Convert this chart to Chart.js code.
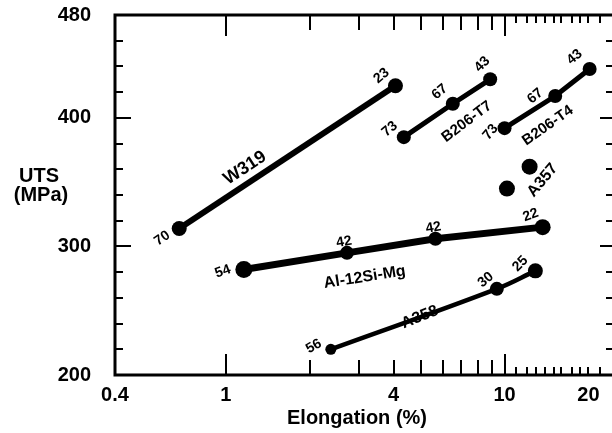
<!DOCTYPE html>
<html>
<head>
<meta charset="utf-8">
<script src="https://cdn.jsdelivr.net/npm/chart.js@4.4.0/dist/chart.umd.min.js"></script>
<style>
  html, body { margin: 0; padding: 0; background: #fff; }
  #chart { display: block; }
</style>
</head>
<body>
<canvas id="chart" width="612" height="433"></canvas>
<script>
// elongation (%) / UTS (MPa) per alloy, with the number printed next to each point
const w319Elong = [0.68, 4.06];
const w319Uts = [314, 425];
const w319Q = ["70", "23"];

const t7Elong = [4.35, 6.52, 8.88];
const t7Uts = [385, 411, 430];
const t7Q = ["73", "67", "43"];

const t4Elong = [10.0, 15.2, 20.2];
const t4Uts = [392, 417, 438];
const t4Q = ["73", "67", "43"];

const a357Elong = [10.2, 12.3];
const a357Uts = [345, 362];

const alSiElong = [1.16, 2.72, 5.65, 13.7];
const alSiUts = [282, 295, 306, 315];
const alSiQ = ["54", "42", "42", "22"];

const a358Elong = [2.38, 9.38, 12.9];
const a358Uts = [220, 267, 281];
const a358Q = ["56", "30", "25"];

const xTickLabels = [0.4, 1, 4, 10, 20];
const yTickLabels = [200, 300, 400, 480];

// tick marks drawn inside the frame
const xMajorTicks = [1, 10];
const xMinorTicks = [2, 3, 4, 5, 6, 7, 8, 9];
const xSmallTicks = [11, 12, 13, 14, 15, 16, 17.5, 18.7, 20, 22];
const yMajorTicks = [300, 400];
const yMinorTicks = [220, 240, 260, 280, 320, 340, 360, 380, 420, 440, 460];

const FONT = '"Liberation Sans", Arial, Helvetica, sans-serif';

const toPoints = (xs, ys) => xs.map((v, i) => ({ x: v, y: ys[i] }));

function series(xs, ys, opts) {
  return Object.assign({
    data: toPoints(xs, ys),
    showLine: true,
    borderColor: "#000",
    backgroundColor: "#000",
    pointBorderWidth: 0,
    pointRadius: 7,
    borderWidth: 5
  }, opts);
}

const datasets = [
  series(w319Elong, w319Uts, { borderWidth: 6, pointRadius: 7.5 }),
  series(t7Elong, t7Uts, { borderWidth: 5 }),
  series(t4Elong, t4Uts, { borderWidth: 5 }),
  series(a357Elong, a357Uts, { showLine: false, pointRadius: 8 }),
  series(alSiElong, alSiUts, { borderWidth: 7, pointRadius: [8.5, 7, 7, 8] }),
  series(a358Elong, a358Uts, { borderWidth: 4.5, pointRadius: [5.5, 7, 7.5], tension: 0.4 })
];

// number labels next to points: dataset index, texts, offsets and rotation
const pointNotes = [
  { ds: 0, texts: w319Q, pos: [[-17, 10, -35], [-14, -10, -40]] },
  { ds: 1, texts: t7Q, pos: [[-14, -8, -40], [-13, -12, -40], [-8, -15, -45]] },
  { ds: 2, texts: t4Q, pos: [[-14, 4, -50], [-20, 0, -40], [-15, -12, -40]] },
  { ds: 4, texts: alSiQ, pos: [[-21, 2, -20], [-3, -11, -10], [-2, -11, -10], [-12, -12, -20]] },
  { ds: 5, texts: a358Q, pos: [[-17, -3, -30], [-11, -9, -40], [-15, -7, -45]] }
];

// alloy names, placed in data coordinates
const seriesNames = [
  { text: "W319", x: 1.17, y: 361, rot: -33, size: 18 },
  { text: "B206-T7", x: 7.32, y: 397, rot: -37, size: 15 },
  { text: "B206-T4", x: 14.3, y: 394, rot: -35, size: 15 },
  { text: "A357", x: 13.7, y: 351.5, rot: -50, size: 16 },
  { text: "Al-12Si-Mg", x: 3.15, y: 276, rot: -9, size: 16 },
  { text: "A358", x: 4.97, y: 245, rot: -22, size: 16 }
];

function rotText(ctx, text, px, py, rot, size) {
  ctx.save();
  ctx.translate(px, py);
  ctx.rotate(rot * Math.PI / 180);
  ctx.font = `bold ${size}px ${FONT}`;
  ctx.textAlign = "center";
  ctx.textBaseline = "middle";
  ctx.fillText(text, 0, 0);
  ctx.restore();
}

const framePlugin = {
  id: "frame",
  afterDatasetsDraw(chart) {
    const { ctx, chartArea: a, scales: { x, y } } = chart;
    ctx.save();
    ctx.strokeStyle = "#000";
    ctx.fillStyle = "#000";

    // frame: top, left, bottom (right edge falls off the picture)
    ctx.lineWidth = 3;
    ctx.beginPath();
    ctx.moveTo(a.right, a.top);
    ctx.lineTo(a.left, a.top);
    ctx.lineTo(a.left, a.bottom);
    ctx.lineTo(a.right, a.bottom);
    ctx.stroke();

    ctx.lineWidth = 2;
    ctx.beginPath();
    const xt = (vals, len) => vals.forEach(v => {
      const px = Math.round(x.getPixelForValue(v));
      ctx.moveTo(px, a.bottom); ctx.lineTo(px, a.bottom - len);
      ctx.moveTo(px, a.top); ctx.lineTo(px, a.top + len);
    });
    xt(xMajorTicks, 21);
    xt(xMinorTicks, 15);
    xt(xSmallTicks, 8);
    const yt = (vals, lenL, lenR) => vals.forEach(v => {
      const py = Math.round(y.getPixelForValue(v));
      ctx.moveTo(a.left, py); ctx.lineTo(a.left + lenL, py);
      ctx.moveTo(a.right, py); ctx.lineTo(a.right - lenR, py);
    });
    yt(yMajorTicks, 16, 12);
    yt(yMinorTicks, 8, 6);
    ctx.stroke();

    pointNotes.forEach(n => {
      const meta = chart.getDatasetMeta(n.ds);
      n.texts.forEach((t, i) => {
        const el = meta.data[i];
        const [dx, dy, rot] = n.pos[i];
        rotText(ctx, t, el.x + dx, el.y + dy, rot, 14);
      });
    });

    seriesNames.forEach(s => {
      rotText(ctx, s.text, x.getPixelForValue(s.x), y.getPixelForValue(s.y), s.rot, s.size);
    });

    // axis titles
    ctx.font = `bold 20px ${FONT}`;
    ctx.textAlign = "center";
    ctx.textBaseline = "alphabetic";
    ctx.fillText("UTS", 39, 182);
    ctx.fillText("(MPa)", 41, 201);
    ctx.fillText("Elongation (%)", 357, 424);
    ctx.restore();
  }
};

const tickFont = { family: FONT, size: 20, weight: "bold" };

new Chart(document.getElementById("chart"), {
  type: "scatter",
  data: { datasets },
  options: {
    responsive: false,
    animation: false,
    devicePixelRatio: 1,
    layout: { autoPadding: false, padding: { top: 15, right: 0, left: 0, bottom: 0 } },
    plugins: {
      legend: { display: false },
      tooltip: { enabled: false }
    },
    scales: {
      x: {
        type: "logarithmic",
        min: 0.4,
        max: 24.3,
        afterBuildTicks: s => { s.ticks = xTickLabels.map(v => ({ value: v })); },
        afterFit: s => { s.height = 58; s.paddingLeft = 0; s.paddingRight = 0; },
        grid: { display: false, drawTicks: false },
        border: { display: false },
        ticks: {
          callback: v => String(v),
          autoSkip: false,
          maxRotation: 0,
          color: "#000",
          font: tickFont,
          padding: 8
        }
      },
      y: {
        type: "linear",
        min: 200,
        max: 480,
        afterBuildTicks: s => { s.ticks = yTickLabels.map(v => ({ value: v })); },
        afterFit: s => { s.width = 115; s.paddingTop = 0; s.paddingBottom = 0; },
        grid: { display: false, drawTicks: false },
        border: { display: false },
        ticks: { color: "#000", font: tickFont, padding: 24 }
      }
    }
  },
  plugins: [framePlugin]
});
</script>
</body>
</html>
